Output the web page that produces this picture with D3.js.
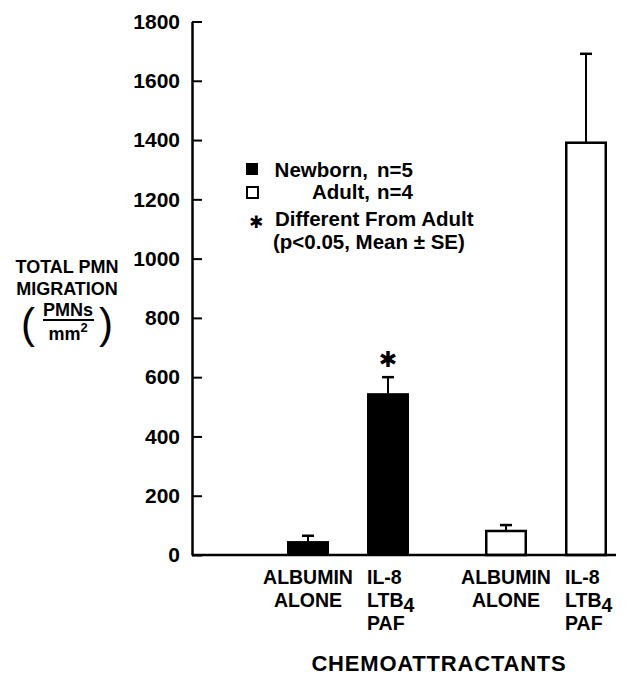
<!DOCTYPE html>
<html>
<head>
<meta charset="utf-8">
<script src="https://cdn.jsdelivr.net/npm/d3@7"></script>
<style>
  html, body { margin: 0; padding: 0; background: #fff; }
  svg { display: block; }
  text { font-family: "Liberation Sans", Arial, Helvetica, sans-serif; font-weight: bold; fill: #000; }
</style>
</head>
<body>
<svg id="chart" width="629" height="676"></svg>
<script>
// ---- data ----
const groups = ["Newborn", "Adult"];
const chemoattractants = ["Albumin alone", "IL-8 LTB4 PAF"];
const newbornMean = [47, 546];
const newbornSE = [18, 54];
const adultMean = [81, 1391];
const adultSE = [20, 300];
const yTicks = [0, 200, 400, 600, 800, 1000, 1200, 1400, 1600, 1800];
const significant = [[false, true], [false, false]];

const svg = d3.select("#chart");

// scales
const y = d3.scaleLinear().domain([0, 1800]).range([555, 21.5]);
const xGroup = d3.scalePoint().domain(groups).range([348, 546]);
const xInner = d3.scaleBand().domain(chemoattractants).range([-80, 80])
  .paddingInner(0.475).paddingOuter(0.2375);

const axisX = 192;

// bars data
const data = [];
groups.forEach((g, gi) => {
  const means = gi === 0 ? newbornMean : adultMean;
  const ses = gi === 0 ? newbornSE : adultSE;
  chemoattractants.forEach((c, ci) => {
    data.push({ group: g, gi, chemo: c, ci, mean: means[ci], se: ses[ci], sig: significant[gi][ci] });
  });
});
const bx = d => xGroup(d.group) + xInner(d.chemo);
const bw = xInner.bandwidth();

// error bars (upper only)
const eb = svg.append("g");
data.forEach(d => {
  const cx = bx(d) + bw / 2;
  eb.append("line").attr("x1", cx).attr("x2", cx)
    .attr("y1", y(d.mean)).attr("y2", y(d.mean + d.se))
    .attr("stroke", "#000").attr("stroke-width", 2);
  eb.append("line").attr("x1", cx - 6).attr("x2", cx + 6)
    .attr("y1", y(d.mean + d.se)).attr("y2", y(d.mean + d.se))
    .attr("stroke", "#000").attr("stroke-width", 2.5);
});

// bars
svg.append("g").selectAll("rect").data(data).join("rect")
  .attr("x", d => d.gi === 0 ? bx(d) : bx(d) + 1.25)
  .attr("width", d => d.gi === 0 ? bw : bw - 2.5)
  .attr("y", d => y(d.mean))
  .attr("height", d => y(0) - y(d.mean))
  .attr("fill", d => d.gi === 0 ? "#000" : "#fff")
  .attr("stroke", d => d.gi === 0 ? "none" : "#000")
  .attr("stroke-width", 2.5);

// significance asterisk
data.filter(d => d.sig).forEach(d => {
  svg.append("text").attr("x", bx(d) + bw / 2).attr("y", y(d.mean + d.se) - 10)
    .attr("text-anchor", "middle").attr("font-size", 22)
    .style("font-family", "DejaVu Sans").text("✱");
});

// y axis
const yAxis = d3.axisLeft(y).tickValues(yTicks).tickFormat(d3.format("d"))
  .tickSizeInner(-10).tickSizeOuter(0).tickPadding(12);
const gy = svg.append("g").attr("transform", `translate(${axisX},0)`).call(yAxis);
gy.attr("font-family", null).attr("font-size", null);
gy.select(".domain").attr("stroke", "#000").attr("stroke-width", 2.5);
gy.selectAll(".tick line").attr("stroke", "#000").attr("stroke-width", 2);
gy.selectAll(".tick text").attr("font-size", 21).attr("fill", "#000")
  .style("font-family", "'Liberation Sans', Arial, sans-serif").style("font-weight", "bold");

// x baseline
svg.append("line").attr("x1", axisX).attr("x2", 616).attr("y1", y(0)).attr("y2", y(0))
  .attr("stroke", "#000").attr("stroke-width", 2.5);

// x category labels
const fsX = 19.5;
data.forEach(d => {
  if (d.ci === 0) {
    const cx = bx(d) + bw / 2;
    svg.append("text").attr("x", cx).attr("y", 584).attr("text-anchor", "middle").attr("font-size", fsX).text("ALBUMIN");
    svg.append("text").attr("x", cx).attr("y", 607).attr("text-anchor", "middle").attr("font-size", fsX).text("ALONE");
  } else {
    const lx = bx(d);
    svg.append("text").attr("x", lx).attr("y", 584).attr("font-size", fsX).text("IL-8");
    const t = svg.append("text").attr("x", lx).attr("y", 607).attr("font-size", fsX);
    t.append("tspan").text("LTB");
    t.append("tspan").attr("dy", 5).text("4");
    svg.append("text").attr("x", lx).attr("y", 630).attr("font-size", fsX).text("PAF");
  }
});

// x title
svg.append("text").attr("x", 439).attr("y", 671).attr("text-anchor", "middle")
  .attr("font-size", 22).style("letter-spacing", "0.8px").text("CHEMOATTRACTANTS");

// y title
const yt = svg.append("g");
yt.append("text").attr("x", 67).attr("y", 273).attr("text-anchor", "middle").attr("font-size", 18).text("TOTAL PMN");
yt.append("text").attr("x", 67).attr("y", 295).attr("text-anchor", "middle").attr("font-size", 18).text("MIGRATION");
yt.append("text").attr("x", 68).attr("y", 316).attr("text-anchor", "middle").attr("font-size", 18).text("PMNs");
yt.append("line").attr("x1", 43).attr("x2", 94).attr("y1", 320).attr("y2", 320).attr("stroke", "#000").attr("stroke-width", 2);
const mm = yt.append("text").attr("x", 68).attr("y", 340).attr("text-anchor", "middle").attr("font-size", 18);
mm.append("tspan").text("mm");
mm.append("tspan").attr("dy", -8).attr("font-size", 13).text("2");
yt.append("text").attr("x", 28).attr("y", 338).attr("text-anchor", "middle").attr("font-size", 42)
  .style("font-weight", "normal").text("(");
yt.append("text").attr("x", 106).attr("y", 338).attr("text-anchor", "middle").attr("font-size", 42)
  .style("font-weight", "normal").text(")");

// legend
const lg = svg.append("g");
const fsL = 20.5;
lg.append("rect").attr("x", 246).attr("y", 163).attr("width", 12).attr("height", 12).attr("fill", "#000");
lg.append("rect").attr("x", 247).attr("y", 187).attr("width", 11).attr("height", 11)
  .attr("fill", "#fff").attr("stroke", "#000").attr("stroke-width", 2);
lg.append("text").attr("x", 368).attr("y", 177).attr("text-anchor", "end").attr("font-size", fsL).text("Newborn,");
lg.append("text").attr("x", 377).attr("y", 177).attr("font-size", fsL).text("n=5");
lg.append("text").attr("x", 370).attr("y", 199).attr("text-anchor", "end").attr("font-size", fsL).text("Adult,");
lg.append("text").attr("x", 377).attr("y", 199).attr("font-size", fsL).text("n=4");
lg.append("text").attr("x", 256).attr("y", 228).attr("text-anchor", "middle").attr("font-size", 17)
  .style("font-family", "DejaVu Sans").text("✱");
lg.append("text").attr("x", 275).attr("y", 226).attr("font-size", fsL).text("Different From Adult");
lg.append("text").attr("x", 273).attr("y", 249).attr("font-size", fsL).text("(p<0.05, Mean ± SE)");
</script>
</body>
</html>
